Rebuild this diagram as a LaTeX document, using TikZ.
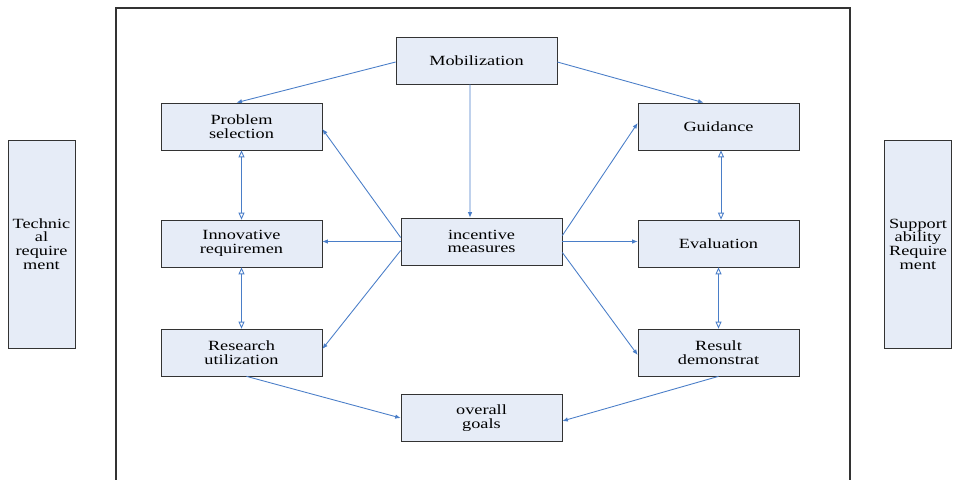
\documentclass[tikz,border=0pt]{standalone}
\usepackage{fontspec}
\setmainfont{Liberation Serif}[FakeStretch=1.3]
\usepackage{tikz}
\usetikzlibrary{arrows.meta}
\definecolor{boxfill}{HTML}{E6ECF7}
\definecolor{linkblue}{HTML}{4A7EC8}

\begin{document}
\begin{tikzpicture}[
        box/.style={draw=black!80, fill=boxfill, minimum width=3.22cm, minimum height=0.94cm,
            align=center, font=\fontsize{8}{7.8}\selectfont, inner sep=1pt},
        side/.style={box, minimum width=1.34cm, minimum height=4.16cm},
        link/.style={linkblue, line width=0.5pt, -{Latex[length=1.1mm,width=0.9mm]}},
        both/.style={linkblue, line width=0.5pt,
            {Triangle[open,length=1.4mm,width=1.2mm]}-{Triangle[open,length=1.4mm,width=1.2mm]}}]
        \useasboundingbox (0,0) rectangle (19.06,-9.58);
        \draw[black!80, line width=0.6pt] (2.32,-9.7) |- (17,-0.16) -- (17,-9.7);

        \node[side] (tech) at (0.83,-4.88) {Technic\\al\\require\\ment};
        \node[side] (supp) at (18.36,-4.88) {Support\\ability\\Require\\ment};

        \node[box] (mob) at (9.53,-1.21) {Mobilization};
        \node[box] (prob) at (4.83,-2.53) {Problem\\selection};
        \node[box] (guid) at (14.37,-2.53) {Guidance};
        \node[box] (inc) at (9.63,-4.83) {incentive\\measures};
        \node[box] (innov) at (4.83,-4.87) {Innovative\\requiremen};
        \node[box] (eval) at (14.37,-4.87) {Evaluation};
        \node[box] (res) at (4.83,-7.05) {Research\\utilization};
        \node[box] (demo) at (14.37,-7.05) {Result\\demonstrat};
        \node[box] (goal) at (9.63,-8.36) {overall\\goals};

        \draw[link] ([yshift=-0.03cm]mob.west) -- ([xshift=-0.1cm]prob.north);
        \draw[link] ([yshift=-0.03cm]mob.east) -- ([xshift=-0.3cm]guid.north);
        \draw[link] ([xshift=-0.13cm]mob.south) -- ([xshift=-0.23cm]inc.north);

        \draw[link] ([yshift=0.08cm]inc.west) -- ([yshift=-0.05cm]prob.east);
        \draw[link] (inc.west) -- (inc.west -| innov.east);
        \draw[link] ([yshift=-0.18cm]inc.west) -- ([yshift=0.07cm]res.east);
        \draw[link] ([yshift=0.12cm]inc.east) -- ([yshift=0.07cm]guid.west);
        \draw[link] (inc.east) -- (inc.east -| eval.west);
        \draw[link] ([yshift=-0.22cm]inc.east) -- ([yshift=-0.05cm]demo.west);

        \draw[both] (prob.south) -- (innov.north);
        \draw[both] (innov.south) -- (res.north);
        \draw[both] ([xshift=0.05cm]guid.south) -- ([xshift=0.05cm]eval.north);
        \draw[both] (eval.south) -- (demo.north);

        \draw[link] ([xshift=0.1cm]res.south) -- (goal.west);
        \draw[link] (demo.south) -- ([yshift=-0.06cm]goal.east);
    \end{tikzpicture}
\end{document}
